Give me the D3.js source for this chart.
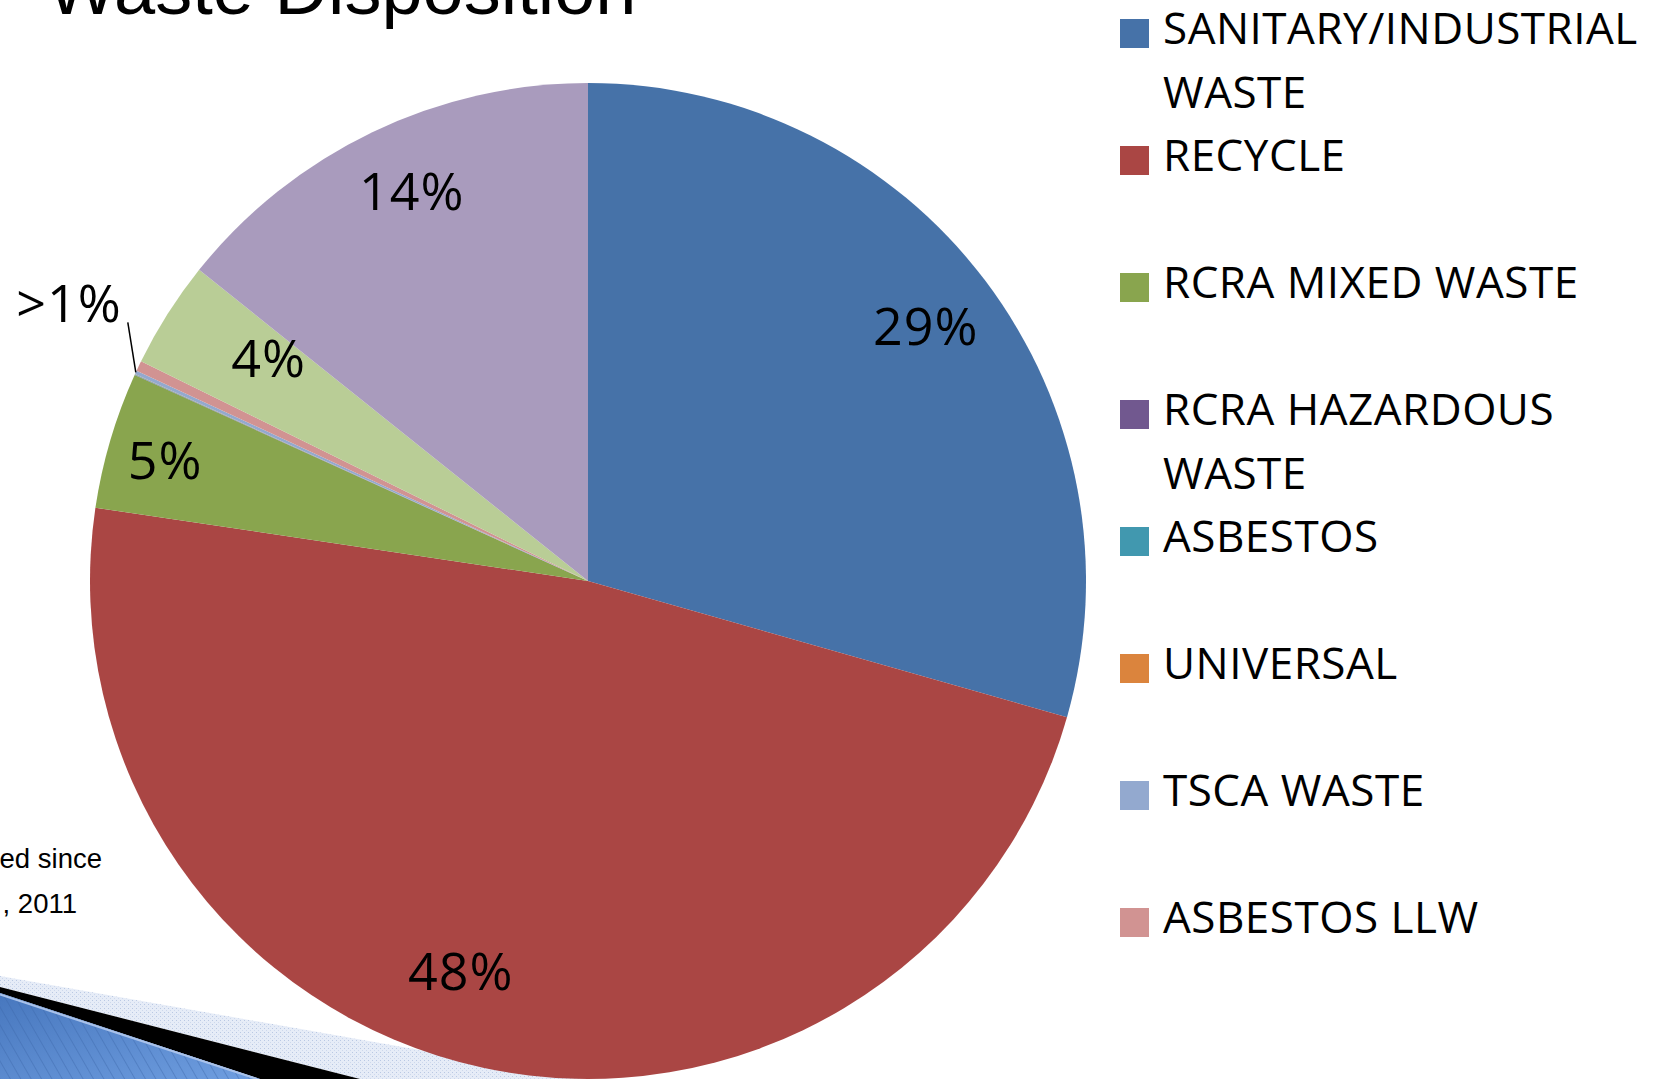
<!DOCTYPE html>
<html>
<head>
<meta charset="utf-8">
<script src="https://cdn.jsdelivr.net/npm/d3@7/dist/d3.min.js"></script>
<style>
	html, body { margin: 0; padding: 0; background: #fff; overflow: hidden; }
	svg { display: block; }
</style>
</head>
<body>
<svg id="chart" width="1659" height="1079"></svg>
<script>
// data (share of total, %)
const categories = [
	"SANITARY/INDUSTRIAL WASTE", "RECYCLE", "RCRA MIXED WASTE", "RCRA HAZARDOUS WASTE",
	"ASBESTOS", "UNIVERSAL", "TSCA WASTE", "ASBESTOS LLW", "LLW", "MIXED LLW"
];
const shares = [29.41, 47.94, 4.44, 0.01, 0.01, 0.01, 0.12, 0.33, 3.47, 14.26];
const sliceLabels = ["29%", "48%", "5%", "", "", "", ">1%", "", "4%", "14%"];
const colors = ["#4672A8", "#AA4644", "#89A54E", "#71588F", "#4198AF",
	"#DB843D", "#93A9CF", "#D19392", "#B9CD96", "#A99BBD"];
const titleText = "Waste Disposition";
const noteLines = ["ed since", ", 2011"];

const data = categories.map((c, i) => ({ name: c, value: shares[i], label: sliceLabels[i] }));

const svg = d3.select("#chart");

// --- slide decoration (bottom left corner) ---
const defs = svg.append("defs");

const stripes = defs.append("pattern")
	.attr("id", "stripes")
	.attr("patternUnits", "userSpaceOnUse")
	.attr("width", 9).attr("height", 9)
	.attr("patternTransform", "rotate(-30)");
stripes.append("rect").attr("width", 9).attr("height", 9).attr("fill", "none");
stripes.append("line")
	.attr("x1", 0).attr("y1", 0).attr("x2", 0).attr("y2", 9)
	.attr("stroke", "#3b66a8").attr("stroke-width", 1.4).attr("stroke-opacity", 0.6);

const dots = defs.append("pattern")
	.attr("id", "dots")
	.attr("patternUnits", "userSpaceOnUse")
	.attr("width", 4).attr("height", 4);
dots.append("rect").attr("width", 4).attr("height", 4).attr("fill", "#e6ecf7");
dots.append("rect").attr("width", 1).attr("height", 1).attr("fill", "#b9c8e3");
dots.append("rect").attr("x", 2).attr("y", 2).attr("width", 1).attr("height", 1).attr("fill", "#cdd8ec");

const blueGrad = defs.append("linearGradient")
	.attr("id", "blueGrad")
	.attr("x1", 0).attr("y1", 0).attr("x2", 1).attr("y2", 1);
blueGrad.append("stop").attr("offset", "0%").attr("stop-color", "#4777be");
blueGrad.append("stop").attr("offset", "100%").attr("stop-color", "#6f9ee0");

const deco = svg.append("g").attr("class", "deco");
deco.append("polygon")
	.attr("points", "0,976 584,1079 360,1079 0,987")
	.attr("fill", "url(#dots)");
deco.append("polygon")
	.attr("points", "0,987 360,1079 260,1079 0,993")
	.attr("fill", "#000");
deco.append("polygon")
	.attr("points", "0,993 260,1079 0,1079")
	.attr("fill", "url(#blueGrad)");
deco.append("polygon")
	.attr("points", "0,993 260,1079 0,1079")
	.attr("fill", "url(#stripes)");
deco.append("line")
	.attr("x1", 0).attr("y1", 994.5).attr("x2", 257).attr("y2", 1079)
	.attr("stroke", "#a9c2ea").attr("stroke-width", 2);

// --- title (cut by top edge, as on the slide) ---
svg.append("text")
	.attr("x", 47).attr("y", 14)
	.attr("font-family", "'Liberation Sans', Arial, sans-serif")
	.attr("font-size", 74)
	.attr("fill", "#000")
	.text(titleText);

// --- footnote, partly off the left edge ---
svg.append("g")
	.selectAll("text")
	.data(noteLines)
	.join("text")
	.attr("x", (d, i) => i === 0 ? 102 : 77)
	.attr("y", (d, i) => 868 + i * 45)
	.attr("text-anchor", "end")
	.attr("font-family", "'Liberation Sans', Arial, sans-serif")
	.attr("font-size", 27.5)
	.attr("fill", "#000")
	.text(d => d);

// --- pie ---
const cx = 588, cy = 581, R = 498;
const color = d3.scaleOrdinal().domain(categories).range(colors);

const pie = d3.pie().sort(null).value(d => d.value);
const arcs = pie(data);
const arc = d3.arc().innerRadius(0).outerRadius(R);
const labelArc = d3.arc().innerRadius(R * 0.85).outerRadius(R * 0.85);
const edgeArc = d3.arc().innerRadius(R).outerRadius(R);

const plot = svg.append("g").attr("transform", `translate(${cx},${cy})`);

plot.selectAll("path.slice")
	.data(arcs)
	.join("path")
	.attr("class", "slice")
	.attr("d", arc)
	.attr("fill", d => color(d.data.name));

// label nudges, similar to Excel's best-fit placement
const nudge = { "48%": [-38, -24], "4%": [38, 4], "5%": [-17, -1], "14%": [7, -8] };
const labelFont = "'Open Sans', 'Noto Sans', sans-serif";

const inside = arcs.filter(d => d.data.label && d.data.label !== ">1%");
plot.selectAll("text.pct")
	.data(inside)
	.join("text")
	.attr("class", "pct")
	.attr("transform", d => {
		const c = labelArc.centroid(d);
		const n = nudge[d.data.label] || [0, 0];
		return `translate(${c[0] + n[0]},${c[1] + n[1]})`;
	})
	.attr("text-anchor", "middle")
	.attr("dy", "0.36em")
	.attr("font-family", labelFont)
	.attr("font-size", 52)
	.attr("letter-spacing", 1)
	.attr("fill", "#000")
	.text(d => d.data.label);

// small slice: label outside with leader line
const outside = arcs.filter(d => d.data.label === ">1%");
outside.forEach(d => {
	const p = edgeArc.centroid(d);
	const q = [p[0] - 8, p[1] - 50];
	plot.append("line")
		.attr("x1", p[0]).attr("y1", p[1])
		.attr("x2", q[0]).attr("y2", q[1])
		.attr("stroke", "#000").attr("stroke-width", 1.5);
	plot.append("text")
		.attr("x", q[0] - 6).attr("y", q[1])
		.attr("text-anchor", "end")
		.attr("font-family", labelFont)
		.attr("font-size", 52)
		.attr("letter-spacing", 1)
		.attr("fill", "#000")
		.text(d.data.label);
});

// --- legend (only the entries that fit on the slide) ---
const legendCount = 8;
const legendX = 1120, legendTop = 44, rowStep = 127, lineStep = 64, maxTextW = 480;

const legend = svg.append("g")
	.attr("font-family", labelFont)
	.attr("font-size", 44)
	.attr("letter-spacing", 0.5)
	.attr("fill", "#000");

const items = legend.selectAll("g.item")
	.data(data.slice(0, legendCount))
	.join("g")
	.attr("class", "item")
	.attr("transform", (d, i) => `translate(${legendX},${legendTop + i * rowStep})`);

items.append("rect")
	.attr("x", 0).attr("y", -25)
	.attr("width", 29).attr("height", 29)
	.attr("fill", d => color(d.name));

items.append("text")
	.each(function (d) {
		const t = d3.select(this);
		const words = d.name.split(" ");
		let line = [];
		let lineNo = 0;
		let tspan = t.append("tspan").attr("x", 43).attr("y", 0);
		words.forEach(w => {
			line.push(w);
			tspan.text(line.join(" "));
			if (tspan.node().getComputedTextLength() > maxTextW && line.length > 1) {
				line.pop();
				tspan.text(line.join(" "));
				line = [w];
				lineNo += 1;
				tspan = t.append("tspan").attr("x", 43).attr("y", lineNo * lineStep).text(w);
			}
		});
	});
</script>
</body>
</html>
